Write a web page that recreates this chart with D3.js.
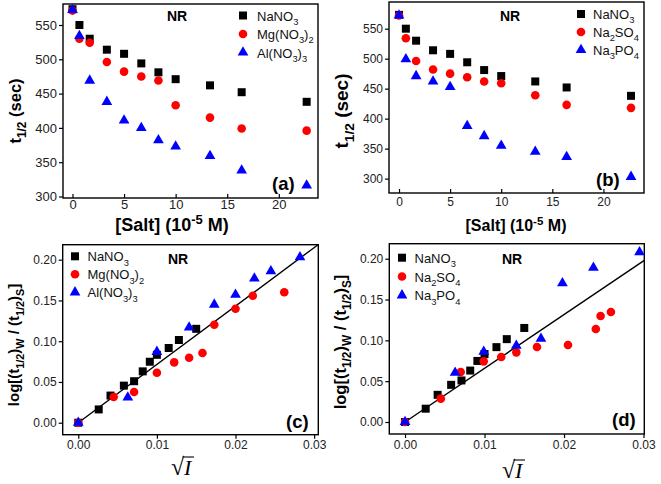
<!DOCTYPE html>
<html>
<head>
<meta charset="utf-8">
<script src="https://cdn.jsdelivr.net/npm/d3@7"></script>
<style>
  html, body { margin: 0; padding: 0; background: #fff; }
  svg { display: block; }
</style>
</head>
<body>
<svg id="chart" width="661" height="484"></svg>
<script>
// ---------------- DATA ----------------
const saltConc = [0, 0.67, 1.67, 3.33, 5, 6.67, 8.33, 10, 13.33, 16.4, 22.7];
const tNaNO3   = [573, 550, 530, 514, 508, 494, 481, 471, 462, 452, 438];
const tMgNO32  = [571, 530, 524, 496, 482, 475, 469, 433, 415, 399, 396];
const tAlNO33  = [572, 534, 469, 438, 411, 400, 382, 373, 359, 338, 316];
const tNa2SO4  = [572, 534, 496, 482, 475, 469, 462, 459, 439, 423, 418];
const tNa3PO4  = [572, 499, 471, 462, 453, 388, 371, 355, 345, 336, 303];

const sqrtI_NaNO3 = [0, 0.0026, 0.0041, 0.0058, 0.0071, 0.0082, 0.0091, 0.0100, 0.0115, 0.0128, 0.0150];
const log_NaNO3   = [0, 0.0163, 0.0333, 0.0455, 0.0509, 0.0630, 0.0748, 0.0833, 0.0917, 0.1015, 0.1152];
const sqrtI_MgNO32 = [0, 0.0045, 0.0071, 0.0100, 0.0122, 0.0141, 0.0158, 0.0173, 0.0200, 0.0222, 0.0262];
const log_MgNO32   = [0, 0.0315, 0.0376, 0.0613, 0.0740, 0.0798, 0.0855, 0.1202, 0.1399, 0.1558, 0.1600];
const sqrtI_AlNO33 = [0, 0.0063, 0.0100, 0.0141, 0.0173, 0.0200, 0.0224, 0.0245, 0.0282];
const log_AlNO33   = [0, 0.0310, 0.0870, 0.1170, 0.1450, 0.1570, 0.1770, 0.1860, 0.2030];
const sqrtI_Na2SO4 = [0, 0.0045, 0.0070, 0.0099, 0.0121, 0.0140, 0.0166, 0.0205, 0.0240, 0.0246, 0.0259];
const log_Na2SO4   = [0, 0.0286, 0.0612, 0.0743, 0.0796, 0.0853, 0.0918, 0.0943, 0.1139, 0.1298, 0.1347];
const sqrtI_Na3PO4 = [0, 0.0063, 0.0099, 0.0140, 0.0171, 0.0198, 0.0237, 0.0295];
const log_Na3PO4   = [0, 0.0604, 0.0861, 0.0935, 0.1020, 0.1700, 0.1890, 0.2080];

const fitC = [[0, 0], [0.0305, 0.2184]];
const fitD = [[0, 0], [0.0301, 0.1980]];

const ticksSaltX = [0, 5, 10, 15, 20];
const ticksTimeY = [300, 350, 400, 450, 500, 550];
const ticksSqrtX = [0, 0.01, 0.02, 0.03];
const ticksLogY  = [0, 0.05, 0.10, 0.15, 0.20];

const legendA = ["NaNO_3", "Mg(NO_3)_2", "Al(NO_3)_3"];
const legendB = ["NaNO_3", "Na_2SO_4", "Na_3PO_4"];

// ---------------- HELPERS ----------------
const svg = d3.select("#chart");
const FONT = "Arial, 'Liberation Sans', Helvetica, sans-serif";
const COLORS = { sq: "#000000", ci: "#ff0000", tr: "#0000ff" };

function parseRich(str) {
  const parts = [];
  let i = 0, buf = "";
  while (i < str.length) {
    const c = str[i];
    if (c === "_" || c === "^") {
      if (buf) { parts.push({ t: buf, m: 0 }); buf = ""; }
      let s;
      if (str[i + 1] === "{") { const j = str.indexOf("}", i); s = str.slice(i + 2, j); i = j + 1; }
      else { s = str[i + 1]; i += 2; }
      parts.push({ t: s, m: c === "_" ? 1 : -1 });
    } else { buf += c; i++; }
  }
  if (buf) parts.push({ t: buf, m: 0 });
  return parts;
}
function richText(textSel, str, size) {
  let cur = 0;
  parseRich(str).forEach(p => {
    const target = p.m === 1 ? 0.33 * size : p.m === -1 ? -0.4 * size : 0;
    textSel.append("tspan")
      .attr("dy", target - cur)
      .attr("font-size", p.m ? size * 0.72 : size)
      .text(p.t);
    cur = target;
  });
  return textSel;
}

function marker(kind) {
  if (kind === "sq") return d3.symbol(d3.symbolSquare, 64)();
  if (kind === "ci") return d3.symbol(d3.symbolCircle, 58)();
  return d3.symbol(d3.symbolTriangle, 50)();
}

function panel(cfg) {
  const g = svg.append("g");
  const x = d3.scaleLinear().domain(cfg.xdom).range([cfg.x0, cfg.x1]);
  const y = d3.scaleLinear().domain(cfg.ydom).range([cfg.y1, cfg.y0]);

  const xAxis = d3.axisBottom(x).tickValues(cfg.xticks).tickSize(cfg.xtick[0]).tickPadding(cfg.xtick[1]).tickFormat(cfg.xfmt);
  const yAxis = d3.axisLeft(y).tickValues(cfg.yticks).tickSize(4).tickPadding(2).tickFormat(cfg.yfmt);
  const gx = g.append("g").attr("transform", `translate(0,${cfg.y1})`).call(xAxis);
  const gy = g.append("g").attr("transform", `translate(${cfg.x0},0)`).call(yAxis);
  [gx, gy].forEach(a => {
    a.select(".domain").remove();
    a.selectAll(".tick line").attr("stroke", "#000").attr("stroke-width", 1.2);
    a.selectAll(".tick text").attr("font-family", FONT).attr("font-size", cfg.tickSize).attr("fill", "#222");
  });

  // frame
  g.append("rect")
    .attr("x", cfg.x0).attr("y", cfg.y0)
    .attr("width", cfg.x1 - cfg.x0).attr("height", cfg.y1 - cfg.y0)
    .attr("fill", "none").attr("stroke", "#000").attr("stroke-width", 1.4);

  // fit line
  if (cfg.fit) {
    g.append("path")
      .datum(cfg.fit)
      .attr("d", d3.line().x(d => x(d[0])).y(d => y(d[1])))
      .attr("stroke", "#000").attr("stroke-width", 1.4).attr("fill", "none");
  }

  // series
  cfg.series.forEach(s => {
    g.append("g").selectAll("path")
      .data(s.xs.map((v, i) => [v, s.ys[i]]))
      .join("path")
      .attr("d", marker(s.kind))
      .attr("transform", d => `translate(${x(d[0])},${y(d[1])})`)
      .attr("fill", COLORS[s.kind]);
  });

  // legend
  cfg.legend.labels.forEach((lab, i) => {
    const ly = cfg.legend.y + i * cfg.legend.dy;
    g.append("path").attr("d", marker(cfg.series[i].kind))
      .attr("transform", `translate(${cfg.legend.x},${ly})`)
      .attr("fill", COLORS[cfg.series[i].kind]);
    const t = g.append("text")
      .attr("x", cfg.legend.x + cfg.legend.tx).attr("y", ly + 5)
      .attr("font-family", FONT).attr("font-size", cfg.legend.size).attr("fill", "#111");
    richText(t, lab, cfg.legend.size);
  });

  // NR label
  g.append("text").attr("x", cfg.nr[0]).attr("y", cfg.nr[1])
    .attr("text-anchor", "middle").attr("font-family", FONT)
    .attr("font-weight", "bold").attr("font-size", 14).text("NR");

  // panel tag
  g.append("text").attr("x", cfg.tag[0]).attr("y", cfg.tag[1])
    .attr("font-family", FONT).attr("font-weight", "bold").attr("font-size", 18.5)
    .text(cfg.tagText);

  // y title
  const yt = g.append("text")
    .attr("transform", `translate(${cfg.ytitle[0]},${cfg.ytitle[1]}) rotate(-90)`)
    .attr("text-anchor", "middle").attr("font-family", FONT)
    .attr("font-weight", "bold").attr("font-size", cfg.ytitle[2]);
  richText(yt, cfg.ytitleText, cfg.ytitle[2]);

  // x title
  if (cfg.xtitleText) {
    const xt = g.append("text")
      .attr("x", cfg.xtitle[0]).attr("y", cfg.xtitle[1])
      .attr("text-anchor", "middle").attr("font-family", FONT)
      .attr("font-weight", "bold").attr("font-size", cfg.xtitle[2]);
    richText(xt, cfg.xtitleText, cfg.xtitle[2]);
  } else {
    const cx = cfg.xtitle[0], by = cfg.xtitle[1];
    g.append("text").attr("x", cx - 12).attr("y", by)
      .attr("font-family", "'Liberation Serif', 'DejaVu Serif', serif").attr("font-size", 24).text("√");
    g.append("text").attr("x", cx + 1).attr("y", by)
      .attr("font-family", "'Liberation Serif', 'DejaVu Serif', serif").attr("font-style", "italic")
      .attr("font-size", 22).text("I");
    g.append("line").attr("x1", cx - 0.5).attr("x2", cx + 11).attr("y1", by - 18).attr("y2", by - 18)
      .attr("stroke", "#000").attr("stroke-width", 1.1);
  }
}

const f2 = d3.format(".2f");

panel({
  x0: 63, x1: 318, y0: 4, y1: 198, xdom: [-0.92, 23.8], ydom: [297.8, 580.6],
  xticks: ticksSaltX, yticks: ticksTimeY, xfmt: d3.format("d"), yfmt: d3.format("d"), tickSize: 13,
  xtick: [-4, 2],
  series: [
    { kind: "sq", xs: saltConc, ys: tNaNO3 },
    { kind: "ci", xs: saltConc, ys: tMgNO32 },
    { kind: "tr", xs: saltConc, ys: tAlNO33 }
  ],
  legend: { labels: legendA, x: 243, y: 15.5, dy: 18.5, tx: 14, size: 13 },
  nr: [177, 21], tag: [272, 190], tagText: "(a)",
  ytitle: [21, 111, 16.5], ytitleText: "t_{1/2} (sec)",
  xtitle: [172, 231, 18], xtitleText: "[Salt] (10^{-5} M)"
});

panel({
  x0: 389, x1: 644, y0: 2, y1: 193, xdom: [-0.98, 23.97], ydom: [276, 594.5],
  xticks: ticksSaltX, yticks: ticksTimeY, xfmt: d3.format("d"), yfmt: d3.format("d"), tickSize: 12,
  xtick: [-4, 4],
  series: [
    { kind: "sq", xs: saltConc, ys: tNaNO3 },
    { kind: "ci", xs: saltConc, ys: tNa2SO4 },
    { kind: "tr", xs: saltConc, ys: tNa3PO4 }
  ],
  legend: { labels: legendB, x: 581, y: 14, dy: 18, tx: 12, size: 13 },
  nr: [510, 21], tag: [596, 186], tagText: "(b)",
  ytitle: [348, 111, 19], ytitleText: "t_{1/2} (sec)",
  xtitle: [516, 231, 16], xtitleText: "[Salt] (10^{-5} M)"
});

panel({
  x0: 62.7, x1: 318.3, y0: 244.7, y1: 434.7, xdom: [-0.00198, 0.03053], ydom: [-0.0147, 0.2184],
  xticks: ticksSqrtX, yticks: ticksLogY, xfmt: f2, yfmt: f2, tickSize: 12,
  xtick: [4, 2],
  fit: fitC,
  series: [
    { kind: "sq", xs: sqrtI_NaNO3, ys: log_NaNO3 },
    { kind: "ci", xs: sqrtI_MgNO32, ys: log_MgNO32 },
    { kind: "tr", xs: sqrtI_AlNO33, ys: log_AlNO33 }
  ],
  legend: { labels: legendA, x: 75, y: 256.3, dy: 18, tx: 12.5, size: 13 },
  nr: [178, 264], tag: [286, 428], tagText: "(c)",
  ytitle: [19, 345, 15], ytitleText: "log[(t_{1/2})_W / (t_{1/2})_S]",
  xtitle: [183, 475]
});

panel({
  x0: 389.3, x1: 644.3, y0: 243.7, y1: 434, xdom: [-0.00198, 0.0301], ydom: [-0.0147, 0.2184],
  xticks: ticksSqrtX, yticks: ticksLogY, xfmt: f2, yfmt: f2, tickSize: 12,
  xtick: [4, 2],
  fit: fitD,
  series: [
    { kind: "sq", xs: sqrtI_NaNO3, ys: log_NaNO3 },
    { kind: "ci", xs: sqrtI_Na2SO4, ys: log_Na2SO4 },
    { kind: "tr", xs: sqrtI_Na3PO4, ys: log_Na3PO4 }
  ],
  legend: { labels: legendB, x: 402, y: 257.7, dy: 18.8, tx: 12.5, size: 13 },
  nr: [512, 264], tag: [612, 426], tagText: "(d)",
  ytitle: [346, 342, 16.5], ytitleText: "log[(t_{1/2})_W / (t_{1/2})_S]",
  xtitle: [514, 478]
});
</script>
</body>
</html>
